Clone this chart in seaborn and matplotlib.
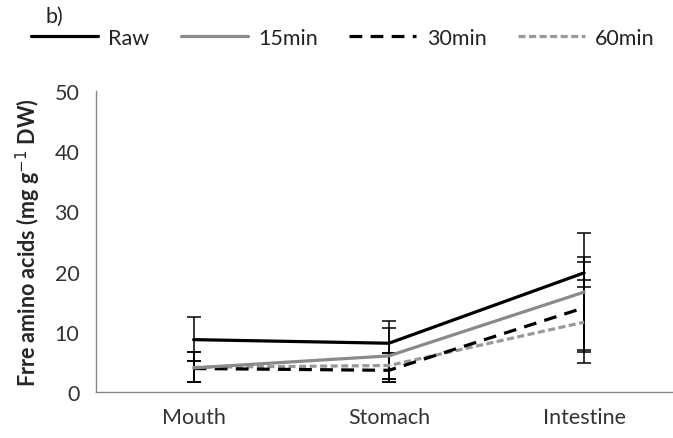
import numpy as np
import pandas as pd
import matplotlib
matplotlib.use("Agg")
import matplotlib.pyplot as plt
import seaborn as sns

sites = ["Mouth", "Stomach", "Intestine"]
series = ["Raw", "15min", "30min", "60min"]

raw = [8.7, 8.1, 19.8]
min15 = [4.0, 6.0, 16.6]
min30 = [3.9, 3.6, 14.0]
min60 = [4.1, 4.4, 11.6]

# error bar ends (upper, lower)
raw_hi = [12.4, 11.8, 26.4]
raw_lo = [5.2, 2.1, 17.4]
min15_hi = [6.7, 10.7, 22.4]
min15_lo = [1.7, 1.7, 6.9]
min30_hi = [6.7, 6.5, 21.6]
min30_lo = [1.7, 2.1, 6.6]
min60_hi = [5.2, 6.5, 18.6]
min60_lo = [1.7, 1.7, 4.9]

means = {"Raw": raw, "15min": min15, "30min": min30, "60min": min60}
his = {"Raw": raw_hi, "15min": min15_hi, "30min": min30_hi, "60min": min60_hi}
los = {"Raw": raw_lo, "15min": min15_lo, "30min": min30_lo, "60min": min60_lo}

df = pd.DataFrame(
    [(s, site, v) for s in series for site, v in zip(sites, means[s])],
    columns=["series", "site", "value"],
)

sns.set_style("white")
plt.rcParams["font.family"] = ["Lato", "DejaVu Sans"]

palette = {"Raw": "#000000", "15min": "#8a8a8a", "30min": "#000000", "60min": "#999999"}
dashes = {"Raw": "", "15min": "", "30min": (4, 2.6), "60min": (2.2, 1.1)}

fig = plt.figure(figsize=(6.73, 4.39), dpi=100)
ax = fig.add_axes([96 / 673, 46 / 439, 577 / 673, 301 / 439])

# error bars first, lines on top
for s in series:
    m = np.array(means[s])
    yerr = [m - np.array(los[s]), np.array(his[s]) - m]
    ax.errorbar(range(3), m, yerr=yerr, fmt="none", ecolor="black",
                elinewidth=1.1, capsize=5, capthick=1.1, zorder=2)

sns.lineplot(data=df, x="site", y="value", hue="series", style="series",
             hue_order=series[::-1], style_order=series[::-1],
             palette=palette, dashes=dashes, linewidth=2.3, ax=ax,
             legend=False, zorder=3)

ax.set_xlim(-0.5, 2.455)
ax.set_ylim(0, 50)
ax.set_yticks(range(0, 51, 10))
ax.set_xticks([-0.5, 0.5, 1.5])
ax.set_xticklabels([])
ax.set_xticks(range(3), sites, minor=True)
ax.tick_params(axis="x", which="major", length=6, color="#868686", width=1)
ax.tick_params(axis="x", which="minor", length=0, labelsize=15.5, pad=11, colors="#333333")
ax.tick_params(axis="y", length=6, color="#868686", width=1, labelsize=15.5,
               colors="#333333", pad=6)
for sp in ["top", "right"]:
    ax.spines[sp].set_visible(False)
for sp in ["left", "bottom"]:
    ax.spines[sp].set_color("#868686")
    ax.spines[sp].set_linewidth(1)
ax.set_xlabel("")
ax.set_ylabel("Frre amino acids (mg g$^{-1}$ DW)", fontsize=15.5, fontweight="bold",
              labelpad=8)

# legend across the top
handles = [
    plt.Line2D([], [], color="#000000", lw=2.3),
    plt.Line2D([], [], color="#8a8a8a", lw=2.3),
    plt.Line2D([], [], color="#000000", lw=2.3, dashes=(4, 2.6)),
    plt.Line2D([], [], color="#999999", lw=2.3, dashes=(2.2, 1.1)),
]
fig.legend(handles, series, loc="center left", bbox_to_anchor=(31 / 673, 1 - 39 / 439),
           ncol=4, frameon=False, fontsize=15.5, handlelength=3.1, handletextpad=0.5,
           columnspacing=1.45, labelcolor="#222222", borderaxespad=0, borderpad=0)
fig.text(54 / 673, 1 - 17 / 439, "b)", fontsize=15.5, ha="center", va="center",
         color="#222222")

fig.savefig("out.png", dpi=100)
